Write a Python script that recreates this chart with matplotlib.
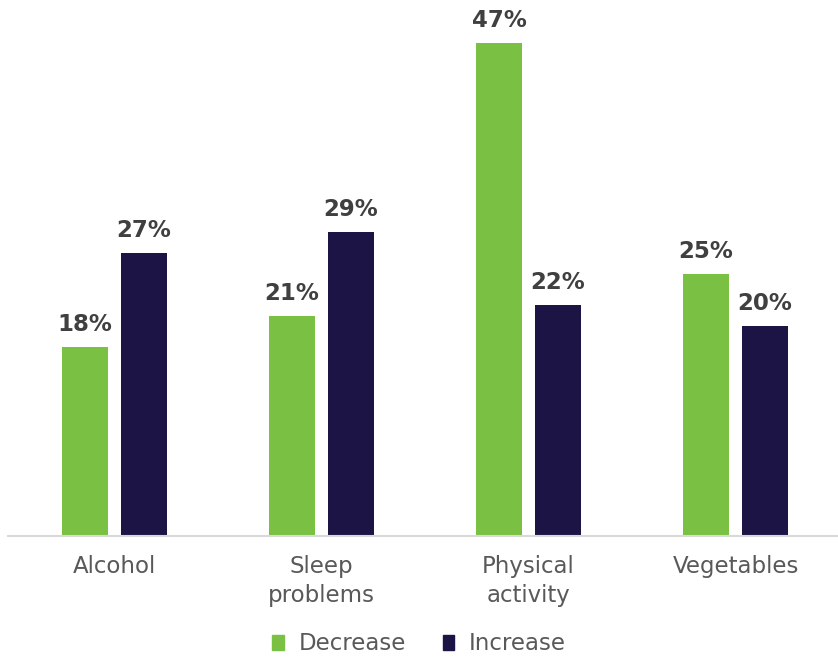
import numpy as np
import matplotlib.pyplot as plt
from matplotlib.patches import Patch

categories = ["Alcohol", "Sleep\nproblems", "Physical\nactivity", "Vegetables"]
decrease = [18, 21, 47, 25]
increase = [27, 29, 22, 20]

GREEN = "#7AC043"
NAVY = "#1D1446"
FONT = "DejaVu Sans"

W, H = 838, 657
fig = plt.figure(figsize=(W / 100, H / 100), dpi=100)
# axes from x=8px to right edge, baseline at y=536px
ax = fig.add_axes([8 / W, (H - 536) / H, 1 - 8 / W, 526 / H])

x = np.arange(len(categories))
bw = 0.222
off = 0.1425
b1 = ax.bar(x - off, decrease, bw, color=GREEN, label="Decrease")
b2 = ax.bar(x + off, increase, bw, color=NAVY, label="Increase")

for bars, vals in ((b1, decrease), (b2, increase)):
    for b, v in zip(bars, vals):
        ax.annotate(f"{v}%", (b.get_x() + b.get_width() / 2, v),
                    xytext=(0, 8), textcoords="offset points",
                    ha="center", va="bottom", fontsize=16.5,
                    fontweight="bold", color="#404040", family=FONT)

ax.set_xlim(-0.514, 3.495)
ax.set_ylim(0, 526 / 10.49)
ax.set_yticks([])
ax.set_xticks(x)
ax.set_xticklabels(categories, fontsize=16.5, color="#595959", family=FONT,
                   linespacing=1.32)
ax.tick_params(axis="x", length=0, pad=14)
for s in ("top", "right", "left"):
    ax.spines[s].set_visible(False)
ax.spines["bottom"].set_color("#D9D9D9")
ax.spines["bottom"].set_linewidth(1.5)

handles = [Patch(color=GREEN), Patch(color=NAVY)]
fig.legend(handles, ["Decrease", "Increase"], loc="center",
           bbox_to_anchor=(0.5, 1 - 644 / H), ncol=2, frameon=False,
           prop={"family": FONT, "size": 16.5}, labelcolor="#595959",
           handlelength=0.5, handleheight=0.6, handletextpad=0.65,
           columnspacing=1.6)

fig.savefig("out.png", dpi=100)
